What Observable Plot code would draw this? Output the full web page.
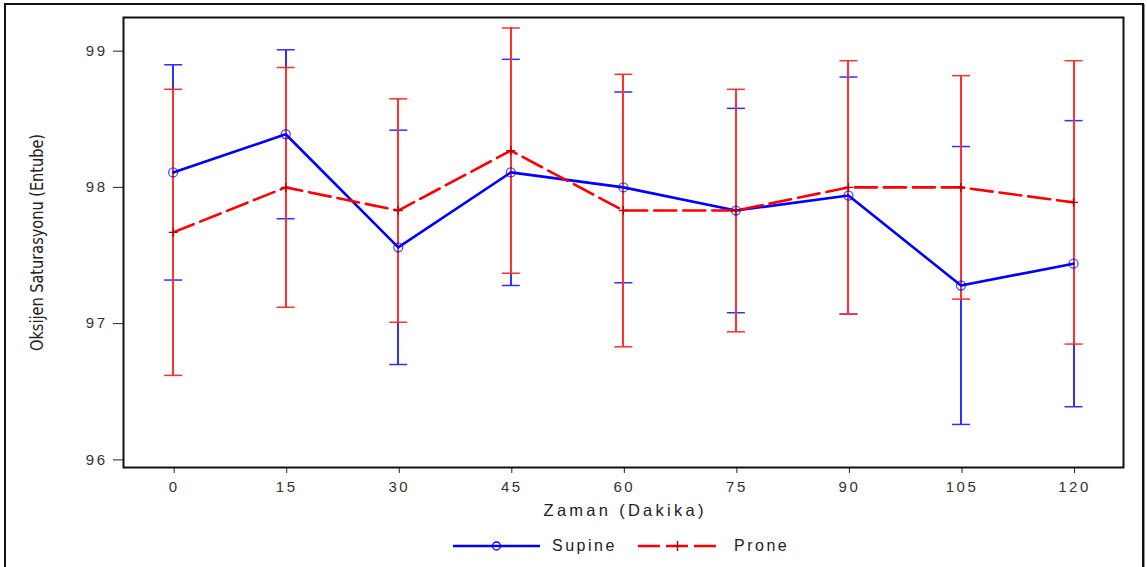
<!DOCTYPE html>
<html>
<head>
<meta charset="utf-8">
<script src="https://cdn.jsdelivr.net/npm/d3@7"></script>
<script src="https://cdn.jsdelivr.net/npm/@observablehq/plot@0.6"></script>
<style>
  html, body { margin: 0; padding: 0; background: #fff; }
  #page { position: relative; width: 1147px; height: 567px; overflow: hidden; background: #fff; }
  #border { position: absolute; left: 4px; top: 3px; width: 1136px; height: 620px;
            border: 2px solid #111; box-shadow: 1px 1px 0 #999; pointer-events: none; }
  #chart svg { display: block; }
  .tick-text text { letter-spacing: 2.5px; }
  #legend { position: relative; height: 37px; font-family: "Liberation Sans", Arial, sans-serif;
            font-size: 16px; letter-spacing: 2.5px; color: #222; }
  #legend .item { position: absolute; top: 0; height: 37px; }
  #legend .lbl { position: absolute; top: 7px; white-space: nowrap; }
</style>
</head>
<body>
<div id="page">
  <div id="chart"></div>
  <div id="legend"></div>
  <div id="border"></div>
</div>
<script>
// Oxygen saturation (intubated) over time, mean ± SD, supine vs prone
const minutes = [0, 15, 30, 45, 60, 75, 90, 105, 120];
const supineMean = [98.11, 98.39, 97.56, 98.11, 98.00, 97.83, 97.94, 97.28, 97.44];
const supineSd   = [0.79, 0.62, 0.86, 0.83, 0.70, 0.75, 0.87, 1.02, 1.05];
const proneMean  = [97.67, 98.00, 97.83, 98.27, 97.83, 97.83, 98.00, 98.00, 97.89];
const proneSd    = [1.05, 0.88, 0.82, 0.90, 1.00, 0.89, 0.93, 0.82, 1.04];
const yTicks = [96, 97, 98, 99];
const seriesNames = ["Supine", "Prone"];
const xLabel = "Zaman (Dakika)";
const yLabel = "Oksijen Saturasyonu (Entube)";

const BLUE = "#0000ff";
const RED = "#ff0000";
const BAR_BLUE = "#3030ff";
const BAR_RED = "#ff3030";

const rows = (means, sds, name) =>
  minutes.map((t, i) => ({ t, mean: means[i], lo: means[i] - sds[i], hi: means[i] + sds[i], name }));
const supine = rows(supineMean, supineSd, seriesNames[0]);
const prone = rows(proneMean, proneSd, seriesNames[1]);

// Horizontal cap for the error bars; half-width follows the dot radius
const capSymbol = {
  draw(ctx, size) {
    const w = Math.sqrt(size / Math.PI);
    ctx.moveTo(-w, 0); ctx.lineTo(w, 0);
  }
};
// Thin plus marker for the prone means
const plusSymbol = {
  draw(ctx, size) {
    const w = Math.sqrt(size / Math.PI);
    ctx.moveTo(-w, 0); ctx.lineTo(w, 0);
    ctx.moveTo(0, -w); ctx.lineTo(0, w);
  }
};

const errorBars = (data, color) => [
  Plot.ruleX(data, { x: "t", y1: "lo", y2: "hi", stroke: color, strokeWidth: 2, shapeRendering: "crispEdges" }),
  Plot.dot(data, { x: "t", y: "hi", symbol: capSymbol, r: 9, stroke: color, fill: "none", strokeWidth: 1.5 }),
  Plot.dot(data, { x: "t", y: "lo", symbol: capSymbol, r: 9, stroke: color, fill: "none", strokeWidth: 1.5 })
];

const chart = Plot.plot({
  width: 1147,
  height: 530,
  marginLeft: 123,
  marginRight: 24,
  marginTop: 17,
  marginBottom: 63,
  style: { fontFamily: "'Liberation Sans', Arial, sans-serif", background: "#fff", overflow: "visible" },
  x: { domain: [-6.62, 126.66] },
  y: { domain: [95.944, 99.247] },
  marks: [
    Plot.axisY({ ticks: yTicks, tickFormat: d => String(d), tickSize: 10, tickPadding: 6, fontSize: 15,
                 color: "#333", stroke: "#222", label: null, className: "tick-text" }),
    Plot.axisX({ ticks: minutes, tickFormat: d => String(d), tickSize: 6, tickPadding: 8, fontSize: 15,
                 color: "#333", stroke: "#222", label: null, dx: 1, className: "tick-text" }),
    ...errorBars(supine, BAR_BLUE),
    ...errorBars(prone, BAR_RED),
    Plot.line(supine, { x: "t", y: "mean", stroke: BLUE, strokeWidth: 2.6 }),
    Plot.line(prone, { x: "t", y: "mean", stroke: RED, strokeWidth: 2.6, strokeDasharray: "22,7" }),
    Plot.dot(supine, { x: "t", y: "mean", r: 4.5, stroke: BLUE, fill: "none", strokeWidth: 1.3, strokeOpacity: 0.7 }),
    Plot.dot(prone, { x: "t", y: "mean", symbol: plusSymbol, r: 4.5, stroke: "#c00000", fill: "none", strokeWidth: 1.4 }),
    Plot.frame({ stroke: "#111", strokeWidth: 2 }),
    Plot.text([xLabel], { frameAnchor: "bottom", dy: 48, fontSize: 16.5, fill: "#222" }),
    Plot.text([yLabel], { frameAnchor: "left", dx: -86, rotate: -90, fontSize: 18.5, fill: "#222" })
  ]
});
document.getElementById("chart").appendChild(chart);

// Axis titles: loose spacing on the x title, condensed face on the y title
const Y_TITLE_LEN = 217;
d3.select(chart).selectAll("text").each(function () {
  const t = this.textContent;
  if (t === xLabel) {
    d3.select(this).attr("textLength", 160).attr("lengthAdjust", "spacing");
  } else if (t === yLabel) {
    // start-anchored and shifted back by half its length so it stays centred on the frame
    d3.select(this)
      .attr("font-family", "'Liberation Sans Narrow', 'DejaVu Sans Condensed', 'Liberation Sans', sans-serif")
      .attr("text-anchor", "start")
      .attr("dx", -Y_TITLE_LEN / 2)
      .attr("textLength", Y_TITLE_LEN).attr("lengthAdjust", "spacingAndGlyphs");
  }
});

// Legend row below the plot
const legend = d3.select("#legend");
const swatches = [
  { name: seriesNames[0], color: BLUE, left: 453, width: 87, dash: null, marker: "circle", labelLeft: 552 },
  { name: seriesNames[1], color: RED, left: 638, width: 79, dash: "22,6", marker: "plus", labelLeft: 734 }
];
for (const s of swatches) {
  const svg = legend.append("svg").attr("class", "item")
    .style("left", s.left + "px").attr("width", s.width).attr("height", 37);
  svg.append("line").attr("x1", 0).attr("x2", s.width).attr("y1", 16).attr("y2", 16)
    .attr("stroke", s.color).attr("stroke-width", 2.6).attr("stroke-dasharray", s.dash);
  if (s.marker === "circle") {
    svg.append("circle").attr("cx", s.width / 2).attr("cy", 16).attr("r", 4)
      .attr("fill", "none").attr("stroke", s.color).attr("stroke-width", 1.3);
  } else {
    const cx = s.width / 2;
    svg.append("path").attr("d", `M${cx - 5},16H${cx + 5}M${cx},11V21`)
      .attr("stroke", "#d00000").attr("stroke-width", 1.5).attr("fill", "none");
  }
  legend.append("div").attr("class", "lbl").style("left", s.labelLeft + "px").text(s.name);
}
</script>
</body>
</html>
